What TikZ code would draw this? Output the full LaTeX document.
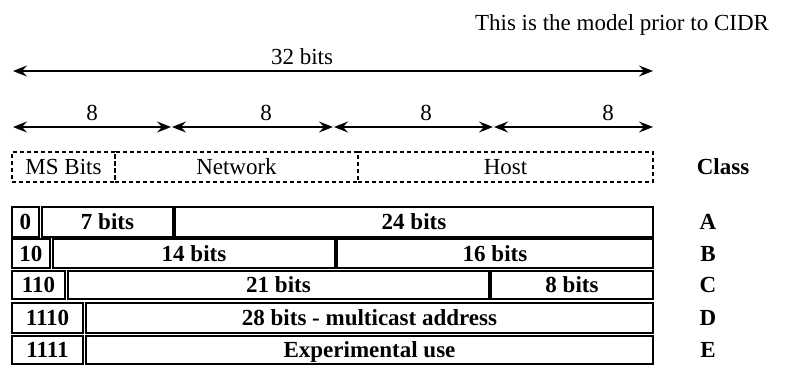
\documentclass[tikz,border=0pt]{standalone}
\usepackage{fontspec}
\setmainfont{Liberation Serif}
\usetikzlibrary{arrows.meta}

% one cell of an address-format row: name, x1, x2, y1, y2, text
\newcommand\ipcell[6]{%
  \node[cellbox, minimum width={(#3-#2)*1pt}, minimum height={(#5-#4)*1pt}]
    (#1) at ({(#2+#3)/2},{(#4+#5)/2}) {#6};}
% one dashed field box: name, x1, x2, text
\newcommand\fieldbox[4]{%
  \node[fieldbox, minimum width={(#3-#2)*1pt}, minimum height=30pt]
    (#1) at ({(#2+#3)/2},167) {#4};}

\tikzset{
  txt/.style={font=\fontsize{23pt}{27pt}\selectfont, inner sep=0pt},
  cellbox/.style={draw, line width=2.5pt, inner sep=0pt, text height=15.5pt,
    text depth=0pt, font=\fontsize{23pt}{27pt}\selectfont\bfseries},
  fieldbox/.style={draw, line width=1.1pt, dash pattern=on 4pt off 3pt,
    inner sep=0pt, text height=15.5pt, text depth=0pt,
    font=\fontsize{23pt}{27pt}\selectfont},
  classlbl/.style={txt, font=\fontsize{23pt}{27pt}\selectfont\bfseries,
    text height=15.5pt, text depth=0pt},
  dimarrow/.style={line width=1.3pt,
    {Stealth[length=14pt,width=11pt,inset=5pt]}-{Stealth[length=14pt,width=11pt,inset=5pt]}},
}

\begin{document}
\begin{tikzpicture}[x=1pt,y=-1pt]
\useasboundingbox (0,0) rectangle (785,365);

% caption
\node[txt, anchor=base] (note) at (622,30) {This is the model prior to CIDR};

% total width
\coordinate (t0) at (13,71);
\coordinate (t1) at (653,71);
\draw[dimarrow] (t0) -- (t1);
\node[txt, anchor=base] (total) at (302,64) {32 bits};

% the four octets
\coordinate (a0) at (13,127);  \coordinate (a1) at (171,127);
\coordinate (b0) at (172,127); \coordinate (b1) at (333,127);
\coordinate (c0) at (334,127); \coordinate (c1) at (493,127);
\coordinate (d0) at (494,127); \coordinate (d1) at (653,127);
\draw[dimarrow] (a0) -- (a1);
\draw[dimarrow] (b0) -- (b1);
\draw[dimarrow] (c0) -- (c1);
\draw[dimarrow] (d0) -- (d1);
\node[txt, anchor=base] (o1) at (92,120) {8};
\node[txt, anchor=base] (o2) at (266,120) {8};
\node[txt, anchor=base] (o3) at (426,120) {8};
\node[txt, anchor=base] (o4) at (608,120) {8};

% field layout
\fieldbox{ms}{12}{115}{MS Bits}
\fieldbox{net}{115}{358}{Network}
\fieldbox{host}{358}{653}{Host}
\node[classlbl] (cls) at (723,167) {Class};

% class A
\ipcell{a1c}{12}{39}{207}{237}{0}
\ipcell{a2c}{42}{173}{207}{237}{7 bits}
\ipcell{a3c}{175}{653}{207}{237}{24 bits}
\node[classlbl] (la) at (708,222) {A};
% class B
\ipcell{b1c}{12}{50}{239}{268}{10}
\ipcell{b2c}{53}{335}{239}{268}{14 bits}
\ipcell{b3c}{337}{653}{239}{268}{16 bits}
\node[classlbl] (lb) at (708,254) {B};
% class C
\ipcell{c1c}{12}{65}{271}{299}{110}
\ipcell{c2c}{68}{489}{271}{299}{21 bits}
\ipcell{c3c}{491}{653}{271}{299}{8 bits}
\node[classlbl] (lc) at (708,285) {C};
% class D
\ipcell{d1c}{12}{83}{303}{333}{1110}
\ipcell{d2c}{86}{653}{303}{333}{28 bits - multicast address}
\node[classlbl] (ld) at (708,318) {D};
% class E
\ipcell{e1c}{12}{83}{336}{364}{1111}
\ipcell{e2c}{86}{653}{336}{364}{Experimental use}
\node[classlbl] (le) at (708,350) {E};
\end{tikzpicture}
\end{document}
